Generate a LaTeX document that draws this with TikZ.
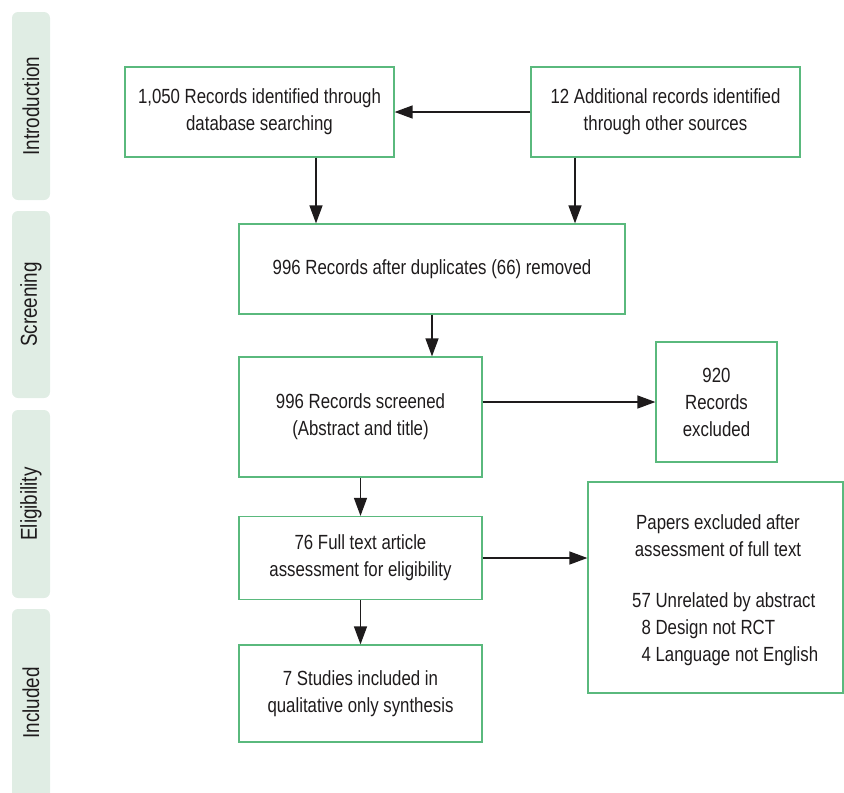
\documentclass[tikz,border=0pt]{standalone}
\usepackage{fontspec}
\setmainfont[FakeStretch=0.82]{Liberation Sans}
\usetikzlibrary{arrows.meta,calc}
\definecolor{boxgreen}{RGB}{90,185,125}
\definecolor{barfill}{RGB}{224,237,228}
\definecolor{ink}{RGB}{30,27,28}
\begin{document}
\begin{tikzpicture}[x=1pt,y=-1pt,
  every node/.style={font=\fontsize{20.5}{27}\selectfont,text=ink},
  flowbox/.style={draw=boxgreen,line width=1.2pt,inner sep=0pt,align=center},
  arr/.style={draw=ink,line width=1.3pt,-{Triangle[length=18pt,width=13pt]}},
  sidebar/.style={fill=barfill,rounded corners=6pt},
  barlabel/.style={rotate=90,font=\fontsize{23}{27}\selectfont}]
\useasboundingbox (0,0) rectangle (844,793);
\begin{scope}
\clip (0,0) rectangle (844,793);
\fill[sidebar] (12,12) rectangle (50,200);
\fill[sidebar] (12,211) rectangle (50,398);
\fill[sidebar] (12,410) rectangle (50,598);
\fill[sidebar] (12,609) rectangle (50,810);
\end{scope}
\node[barlabel] (l1) at (31,106) {Introduction};
\node[barlabel] (l2) at (31,304.5) {Screening};
\node[barlabel] (l3) at (31,504) {Eligibility};
\node[barlabel] (l4) at (31,703) {Included};

\node[flowbox,minimum width=269pt,minimum height=90pt] (A) at (259.5,112) {1,050 Records identified through\\database searching};
\node[flowbox,minimum width=269pt,minimum height=90pt] (B) at (665.5,112) {12 Additional records identified\\through other sources};
\node[flowbox,minimum width=386pt,minimum height=90pt] (C) at (432,269) {996 Records after duplicates (66) removed};
\node[flowbox,minimum width=243pt,minimum height=120pt] (D) at (360.5,417) {996 Records screened\\(Abstract and title)};
\node[flowbox,minimum width=121pt,minimum height=120pt] (E) at (716.5,402) {920\\Records\\excluded};
\node[flowbox,minimum width=243pt,minimum height=83pt] (F) at (360.5,558) {76 Full text article\\assessment for eligibility};
\node[flowbox,minimum width=255pt,minimum height=211pt] (G) at (715.5,587.5) {};
\node[align=center] (Gt) at (718,536) {Papers excluded after\\assessment of full text};
\node[align=left,anchor=west,inner sep=0pt] (Gl) at (632,629) {57 Unrelated by abstract\\\phantom{5}8 Design not RCT\\\phantom{5}4 Language not English};
\node[flowbox,minimum width=243pt,minimum height=97pt] (H) at (360.5,693.5) {7 Studies included in\\qualitative only synthesis};

\coordinate (ca) at (316,0);
\coordinate (cb) at (575,0);
\draw[arr] (A.south -| ca) -- (C.north -| ca);
\draw[arr] (B.south -| cb) -- (C.north -| cb);
\draw[arr] (B.west) -- (A.east);
\draw[arr] (C.south) -- (C.south |- D.north);
\draw[arr] (E.west -| D.east) -- (E.west);
\draw[arr] (D.south -| F.north) -- (F.north);
\draw[arr] (F.east) -- (F.east -| G.west);
\draw[arr] (F.south) -- (H.north);
\end{tikzpicture}
\end{document}
